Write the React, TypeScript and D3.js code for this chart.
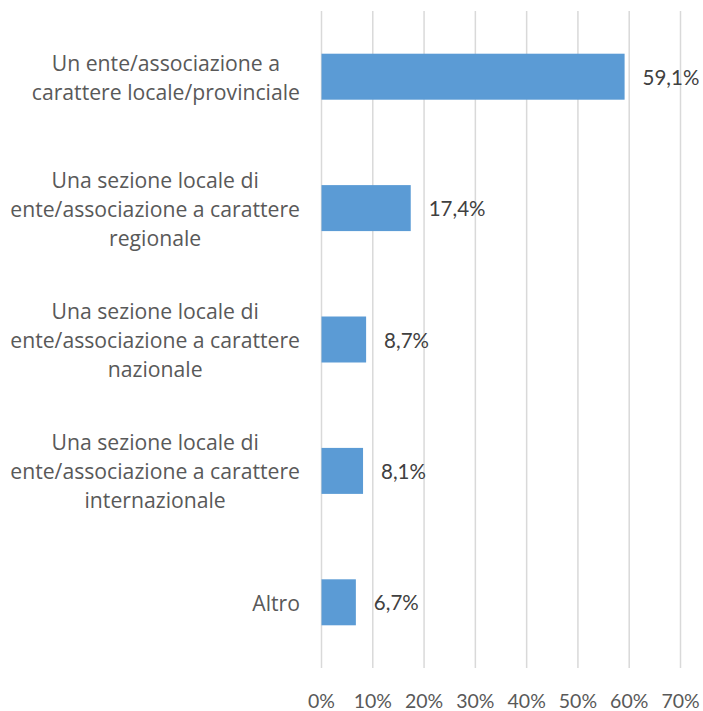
import React, { useEffect, useRef } from "react";
import * as d3 from "d3";

const categories: string[][] = [
  ["Un ente/associazione a", "carattere locale/provinciale"],
  ["Una sezione locale di", "ente/associazione a carattere", "regionale"],
  ["Una sezione locale di", "ente/associazione a carattere", "nazionale"],
  ["Una sezione locale di", "ente/associazione a carattere", "internazionale"],
  ["Altro"],
];
const values: number[] = [59.1, 17.4, 8.7, 8.1, 6.7];
const ticks: number[] = [0, 10, 20, 30, 40, 50, 60, 70];

const W = 703;
const H = 711;
const NUM_FONT = "Lato, 'Open Sans', sans-serif";
const CAT_FONT = "'Open Sans', Lato, sans-serif";

export default function App() {
  const ref = useRef<SVGSVGElement>(null);
  useEffect(() => {
    const svg = d3.select(ref.current);
    svg.selectAll("*").remove();
    const x = d3.scaleLinear().domain([0, 70]).range([321.5, 680.5]);
    const y = d3
      .scaleBand<number>()
      .domain(values.map((_, i) => i))
      .range([11, 668])
      .paddingInner(0.65)
      .paddingOuter(0.325);

    svg
      .append("g")
      .selectAll("line")
      .data(ticks)
      .join("line")
      .attr("x1", (d) => x(d))
      .attr("x2", (d) => x(d))
      .attr("y1", 11)
      .attr("y2", 668)
      .attr("stroke", "#d9d9d9")
      .attr("stroke-width", 1.5);

    svg
      .append("g")
      .selectAll("text")
      .data(ticks)
      .join("text")
      .attr("x", (d) => x(d))
      .attr("y", 700)
      .attr("text-anchor", "middle")
      .attr("dominant-baseline", "central")
      .attr("font-family", NUM_FONT)
      .attr("font-size", 19.5)
      .attr("fill", "#595959")
      .text((d) => `${d}%`);

    svg
      .append("g")
      .selectAll("rect")
      .data(values)
      .join("rect")
      .attr("x", x(0))
      .attr("y", (_, i) => y(i)!)
      .attr("width", (d) => x(d) - x(0))
      .attr("height", y.bandwidth())
      .attr("fill", "#5b9bd5");

    svg
      .append("g")
      .selectAll("text")
      .data(values)
      .join("text")
      .attr("x", (d) => x(d) + 18)
      .attr("y", (_, i) => y(i)! + y.bandwidth() / 2)
      .attr("dominant-baseline", "central")
      .attr("font-family", NUM_FONT)
      .attr("font-size", 20.5)
      .attr("fill", "#404040")
      .text((d) => d.toFixed(1).replace(".", ",") + "%");

    const lineH = 29;
    const right = 300;
    categories.forEach((lines, i) => {
      const cy = y(i)! + y.bandwidth() / 2;
      const g = svg.append("g");
      const texts = g
        .selectAll("text")
        .data(lines)
        .join("text")
        .attr("y", (_, j) => cy + (j - (lines.length - 1) / 2) * lineH)
        .attr("dominant-baseline", "central")
        .attr("text-anchor", "middle")
        .attr("font-family", CAT_FONT)
        .attr("font-size", 21.2)
        .attr("fill", "#595959")
        .text((d) => d);
      let maxW = 0;
      texts.each(function () {
        maxW = Math.max(maxW, (this as SVGTextElement).getComputedTextLength());
      });
      texts.attr("x", right - maxW / 2);
    });
  }, []);
  return (
    <svg
      ref={ref}
      width={W}
      height={H}
      style={{ position: "absolute", left: 0, top: 0, background: "#fff" }}
    />
  );
}
